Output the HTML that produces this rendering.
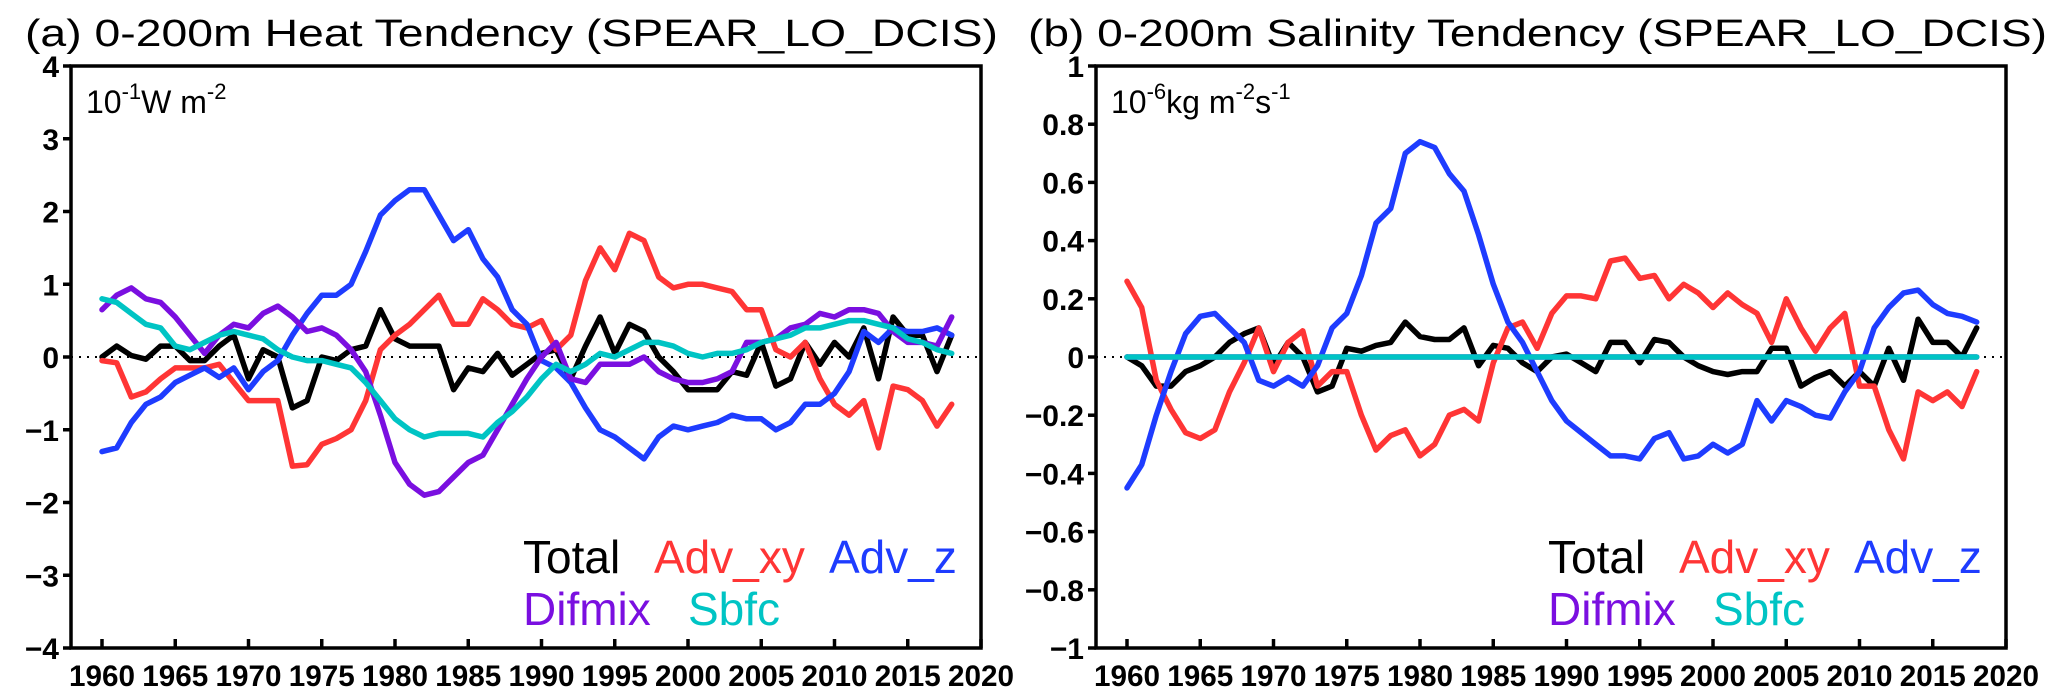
<!DOCTYPE html>
<html><head><meta charset="utf-8"><style>
html,body{margin:0;padding:0;background:#fff;}
svg{display:block;font-family:"Liberation Sans",sans-serif;}
</style></head><body>
<svg id="c" width="2067" height="699" viewBox="0 0 2067 699"></svg>
<script>
const years=[];for(let y=1960;y<=2018;y++)years.push(y);
const xTicks=[1960,1965,1970,1975,1980,1985,1990,1995,2000,2005,2010,2015,2020];
const aTicks=[4,3,2,1,0,-1,-2,-3,-4];
const bTicks=[1,0.8,0.6,0.4,0.2,0,-0.2,-0.4,-0.6,-0.8,-1];
const aTotal=[0,0.15,0.02,-0.03,0.15,0.15,-0.05,-0.05,0.15,0.3,-0.3,0.1,0.0,-0.7,-0.6,0.0,-0.05,0.1,0.15,0.65,0.25,0.15,0.15,0.15,-0.45,-0.15,-0.2,0.05,-0.25,-0.1,0.05,0.1,-0.3,0.15,0.55,0.05,0.45,0.35,0.0,-0.2,-0.45,-0.45,-0.45,-0.2,-0.25,0.2,-0.4,-0.3,0.2,-0.1,0.2,0.0,0.4,-0.3,0.55,0.3,0.3,-0.2,0.3];
const aAdvxy=[-0.05,-0.08,-0.55,-0.48,-0.3,-0.15,-0.15,-0.15,-0.1,-0.35,-0.6,-0.6,-0.6,-1.5,-1.48,-1.2,-1.12,-1.0,-0.6,0.1,0.3,0.45,0.65,0.85,0.45,0.45,0.8,0.65,0.45,0.4,0.5,0.1,0.3,1.05,1.5,1.2,1.7,1.6,1.1,0.95,1.0,1.0,0.95,0.9,0.65,0.65,0.1,0.0,0.2,-0.3,-0.65,-0.8,-0.6,-1.25,-0.4,-0.45,-0.6,-0.95,-0.65];
const aAdvz=[-1.3,-1.25,-0.9,-0.65,-0.55,-0.35,-0.25,-0.15,-0.28,-0.15,-0.45,-0.2,-0.05,0.3,0.6,0.85,0.85,1.0,1.45,1.95,2.15,2.3,2.3,1.95,1.6,1.75,1.35,1.1,0.65,0.45,-0.05,-0.15,-0.35,-0.7,-1.0,-1.1,-1.25,-1.4,-1.1,-0.95,-1.0,-0.95,-0.9,-0.8,-0.85,-0.85,-1.0,-0.9,-0.65,-0.65,-0.5,-0.2,0.35,0.2,0.4,0.35,0.35,0.4,0.3];
const aDifmix=[0.65,0.85,0.95,0.8,0.75,0.55,0.3,0.05,0.3,0.45,0.4,0.6,0.7,0.55,0.35,0.4,0.3,0.1,-0.2,-0.8,-1.45,-1.75,-1.9,-1.85,-1.65,-1.45,-1.35,-1.0,-0.65,-0.3,0.0,0.2,-0.3,-0.35,-0.1,-0.1,-0.1,0.0,-0.2,-0.3,-0.35,-0.35,-0.3,-0.2,0.2,0.2,0.25,0.4,0.45,0.6,0.55,0.65,0.65,0.6,0.35,0.2,0.2,0.15,0.55];
const aSbfc=[0.8,0.75,0.6,0.45,0.4,0.15,0.1,0.2,0.3,0.35,0.3,0.25,0.1,0.0,-0.05,-0.05,-0.1,-0.15,-0.35,-0.6,-0.85,-1.0,-1.1,-1.05,-1.05,-1.05,-1.1,-0.9,-0.75,-0.55,-0.3,-0.1,-0.2,-0.1,0.05,0.0,0.1,0.2,0.2,0.15,0.05,0.0,0.05,0.05,0.1,0.2,0.25,0.3,0.4,0.4,0.45,0.5,0.5,0.45,0.4,0.25,0.2,0.1,0.05];
const bTotal=[0,-0.03,-0.1,-0.1,-0.05,-0.03,0.0,0.05,0.08,0.1,-0.03,0.05,0.0,-0.12,-0.1,0.03,0.02,0.04,0.05,0.12,0.07,0.06,0.06,0.1,-0.03,0.04,0.03,-0.02,-0.05,0.0,0.01,-0.02,-0.05,0.05,0.05,-0.02,0.06,0.05,0.0,-0.03,-0.05,-0.06,-0.05,-0.05,0.03,0.03,-0.1,-0.07,-0.05,-0.1,-0.05,-0.1,0.03,-0.08,0.13,0.05,0.05,0.0,0.1];
const bAdvxy=[0.26,0.17,-0.08,-0.18,-0.26,-0.28,-0.25,-0.12,-0.02,0.1,-0.05,0.05,0.09,-0.1,-0.05,-0.05,-0.2,-0.32,-0.27,-0.25,-0.34,-0.3,-0.2,-0.18,-0.22,-0.02,0.1,0.12,0.03,0.15,0.21,0.21,0.2,0.33,0.34,0.27,0.28,0.2,0.25,0.22,0.17,0.22,0.18,0.15,0.05,0.2,0.1,0.02,0.1,0.15,-0.1,-0.1,-0.25,-0.35,-0.12,-0.15,-0.12,-0.17,-0.05];
const bAdvz=[-0.45,-0.37,-0.2,-0.05,0.08,0.14,0.15,0.1,0.05,-0.08,-0.1,-0.07,-0.1,-0.03,0.1,0.15,0.28,0.46,0.51,0.7,0.74,0.72,0.63,0.57,0.42,0.25,0.12,0.05,-0.05,-0.15,-0.22,-0.26,-0.3,-0.34,-0.34,-0.35,-0.28,-0.26,-0.35,-0.34,-0.3,-0.33,-0.3,-0.15,-0.22,-0.15,-0.17,-0.2,-0.21,-0.12,-0.05,0.1,0.17,0.22,0.23,0.18,0.15,0.14,0.12];
const bDifmix=years.map(()=>0);
const bSbfc=years.map(()=>0);

const NS="http://www.w3.org/2000/svg";
const svg=document.getElementById('c');
function el(t,a,p){const e=document.createElementNS(NS,t);for(const k in a)e.setAttribute(k,a[k]);(p||svg).appendChild(e);return e;}
const COL={t:"#000",xy:"#ff3535",z:"#1e3cff",d:"#7a0fe0",s:"#00c4c4"};

function panel(id,L,R,ymin,ymax,yt,title,tx0,tx1,series,unit,fmt){
  const T=66,B=648;
  const X0=L+31,X1=R;
  const g=el('g',{});
  
  
  const xs=v=>X0+(v-1960)*(X1-X0)/60;
  const ys=v=>B-(v-ymin)*(B-T)/(ymax-ymin);
  const tt=el('text',{x:tx0,y:46,'font-size':38,textLength:tx1-tx0,lengthAdjust:'spacingAndGlyphs'},g);
  tt.textContent=title;
  
  
  const z=el('line',{x1:L,x2:R,y1:ys(0),y2:ys(0),stroke:'#000','stroke-width':2,'stroke-dasharray':'2,6'},g);
  
  
  for(const s of series){
    const pts=s.v.map((v,i)=>xs(years[i]).toFixed(1)+','+ys(v).toFixed(1)).join(' ');
    const pl=el('polyline',{points:pts,fill:'none',stroke:s.c,'stroke-width':5.5,'stroke-linejoin':'round','stroke-linecap':'round'},g);
    
    
  }
  const fr=el('rect',{x:L,y:T,width:R-L,height:B-T,fill:'none',stroke:'#000','stroke-width':3.5},g);
  
  
  for(const v of yt){
    const y=ys(v);
    el('line',{x1:L-8,x2:L,y1:y,y2:y,stroke:'#000','stroke-width':3.5},g);
    const t=el('text',{x:L-12,y:y+11,'font-size':30,'font-weight':'bold','text-anchor':'end'},g);
    t.textContent=fmt(v);
    
    
  }
  for(const v of xTicks){
    const x=xs(v);
    el('line',{x1:x,x2:x,y1:B,y2:B-9,stroke:'#000','stroke-width':3.5},g);
    const t=el('text',{x:x,y:B+38,'font-size':30,'font-weight':'bold','text-anchor':'middle',textLength:66,lengthAdjust:'spacingAndGlyphs'},g);
    t.textContent=v;
    
    
  }
  const u=el('text',{x:L+15,y:113,'font-size':32},g);
  u.innerHTML=unit;
  
  
  const leg=[[series[0],-458,573],[series[1],-327,573],[series[2],-152,573],[series[3],-458,625],[series[4],-293,625]];
  for(const [s,dx,y] of leg){
    const t=el('text',{x:R+dx,y:y,'font-size':46,fill:s.c},g);
    t.textContent=s.n;
    
    
  }
}
panel('a',71,981,-4,4,aTicks,"(a) 0-200m Heat Tendency (SPEAR_LO_DCIS)",25,998,
 [{n:'Total',c:COL.t,v:aTotal},{n:'Adv_xy',c:COL.xy,v:aAdvxy},{n:'Adv_z',c:COL.z,v:aAdvz},{n:'Difmix',c:COL.d,v:aDifmix},{n:'Sbfc',c:COL.s,v:aSbfc}],
 '10<tspan dy="-14" font-size="22">-1</tspan><tspan dy="14">W m</tspan><tspan dy="-14" font-size="22">-2</tspan>',
 v=>v<0?'\u2212'+(-v):String(v));
panel('b',1096,2006,-1,1,bTicks,"(b) 0-200m Salinity Tendency (SPEAR_LO_DCIS)",1028,2047,
 [{n:'Total',c:COL.t,v:bTotal},{n:'Adv_xy',c:COL.xy,v:bAdvxy},{n:'Adv_z',c:COL.z,v:bAdvz},{n:'Difmix',c:COL.d,v:bDifmix},{n:'Sbfc',c:COL.s,v:bSbfc}],
 '10<tspan dy="-14" font-size="22">-6</tspan><tspan dy="14">kg m</tspan><tspan dy="-14" font-size="22">-2</tspan><tspan dy="14">s</tspan><tspan dy="-14" font-size="22">-1</tspan>',
 v=>v===0?'0':(v<0?'\u2212':'')+(Math.abs(v)===1?'1':Math.abs(v).toFixed(1)));
</script>
</body></html>
